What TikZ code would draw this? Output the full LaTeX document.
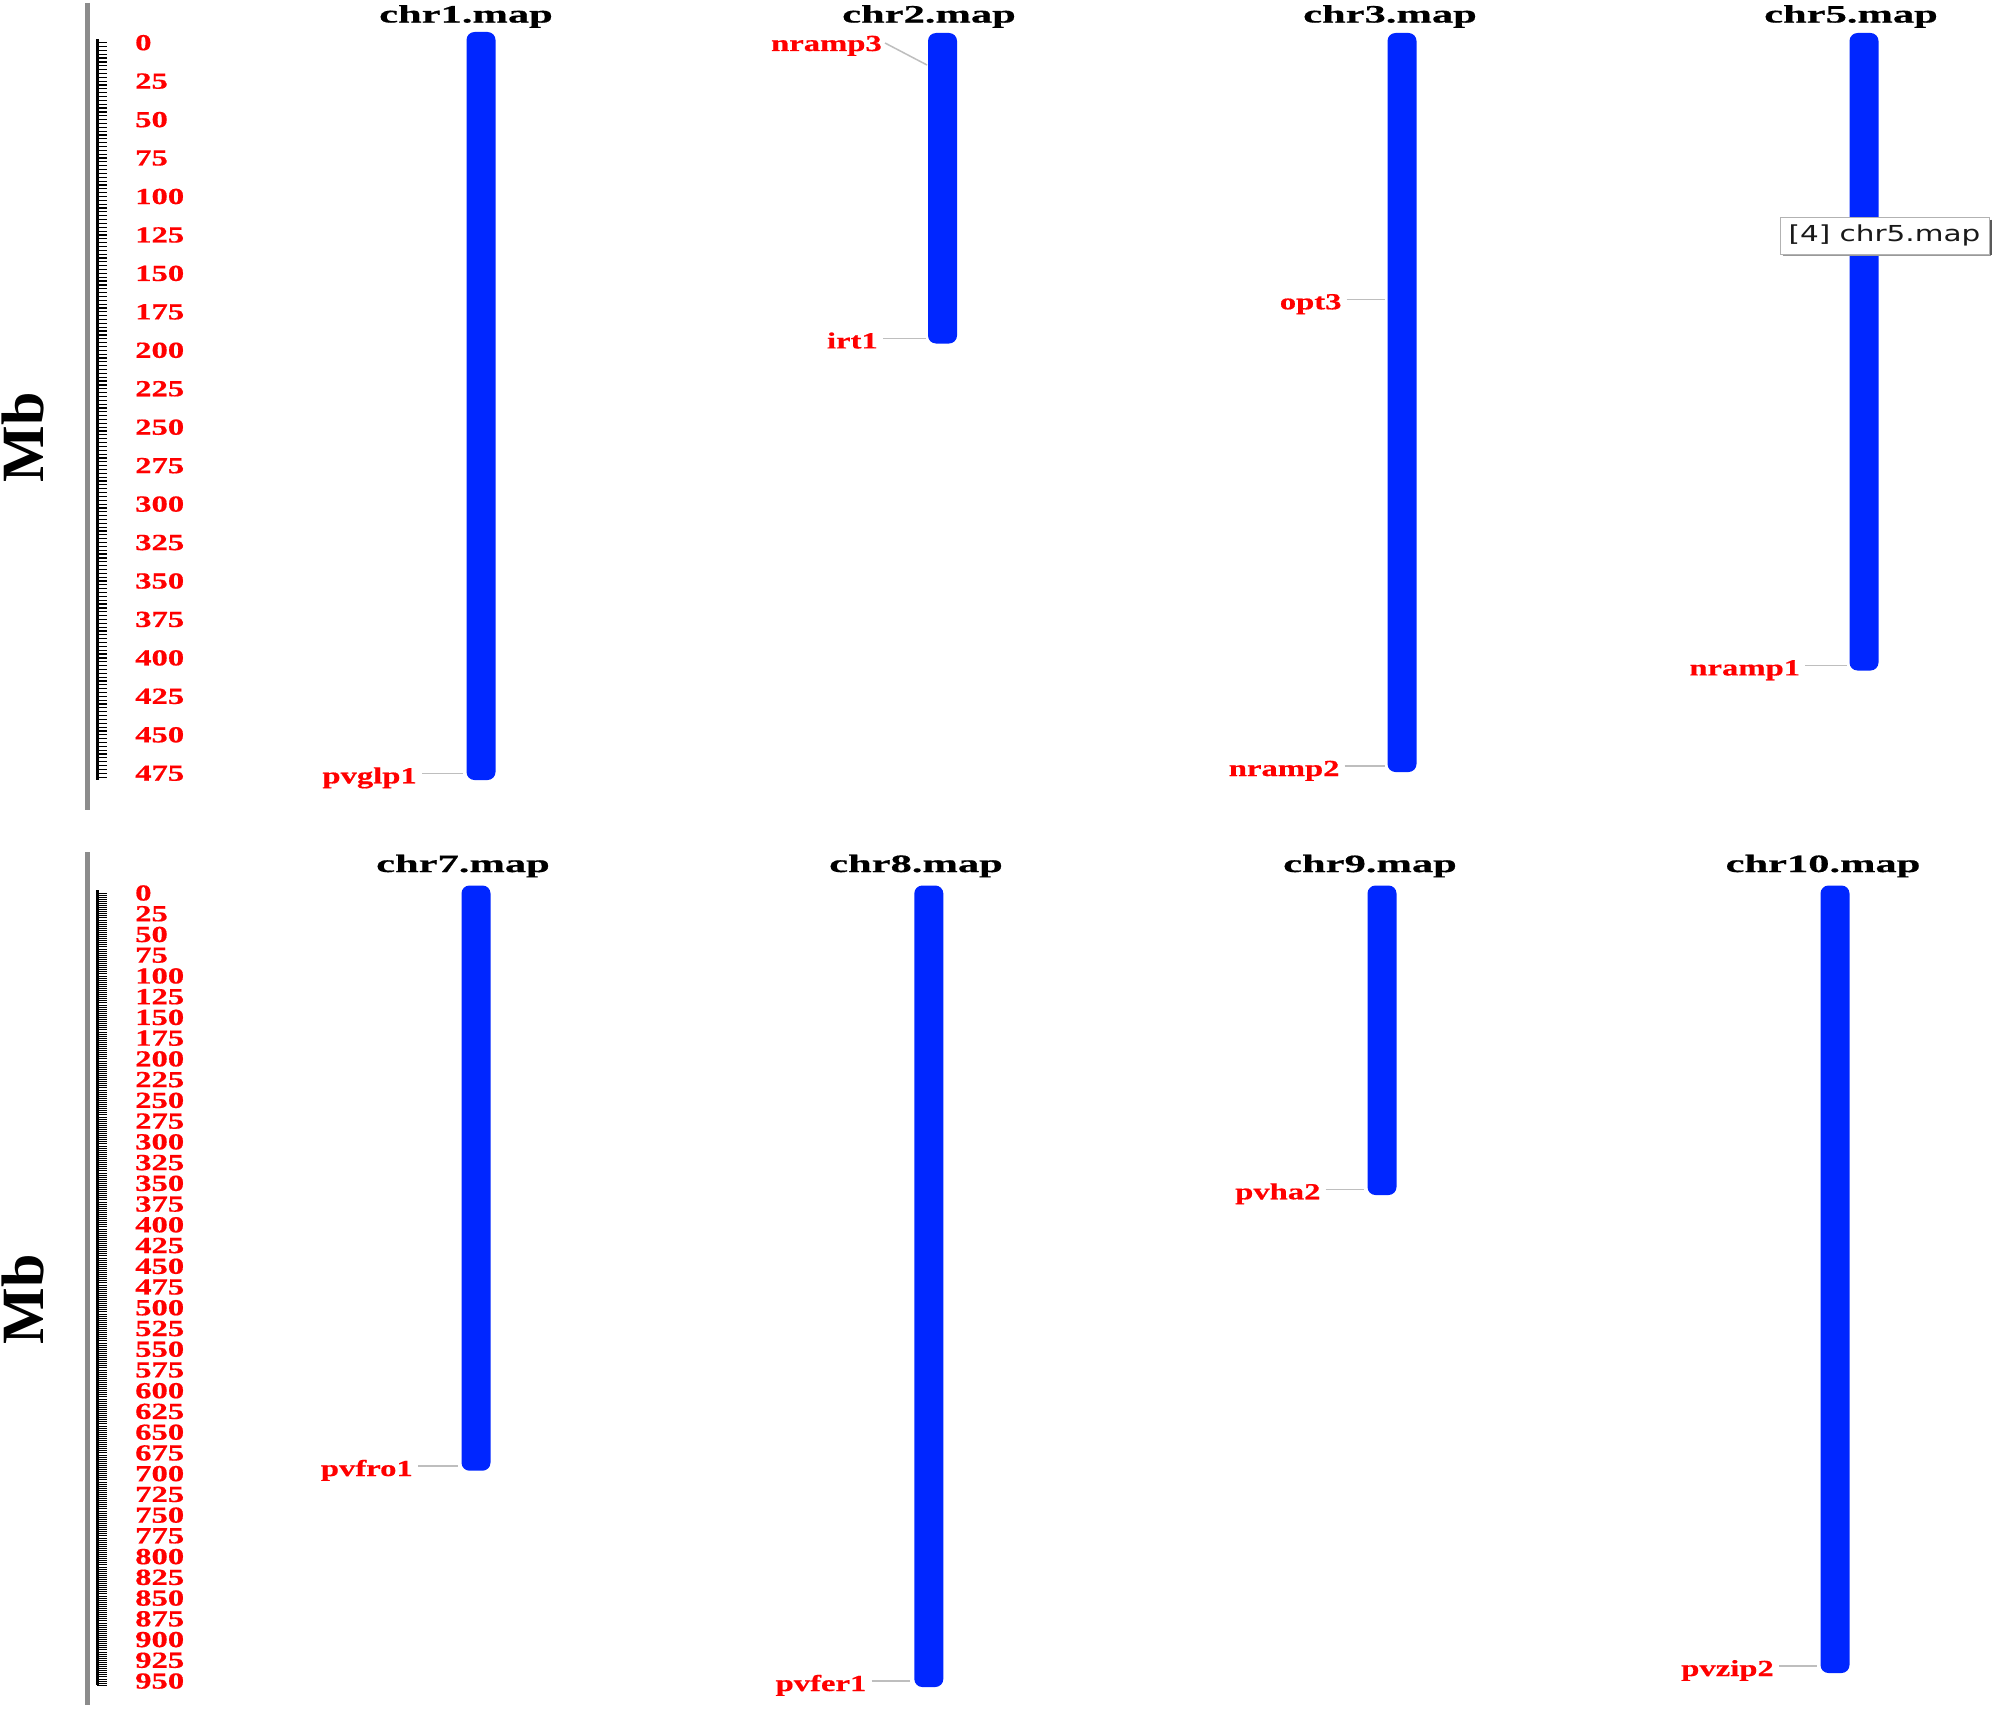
\documentclass[tikz,border=0pt]{standalone}
\usepackage{fontspec}
\setmainfont{Liberation Serif}
\newfontfamily\lblfont[FakeStretch=1.42,FakeBold=0.6]{Liberation Serif}
\newfontfamily\ttlfont[FakeStretch=1.7,FakeBold=0.6]{Liberation Serif}
\newfontfamily\tipfont[FakeStretch=1.34]{DejaVu Sans}
\usetikzlibrary{calc}
\definecolor{chromblue}{RGB}{0,38,255}
\definecolor{conngray}{RGB}{190,190,190}
\definecolor{axisgray}{RGB}{140,140,140}
\definecolor{lblred}{RGB}{255,0,0}
\newcommand{\gene}[6]{%
  \node[genelbl, anchor=base east] (#1) at (#3,{#4+10}) {#2};
  \coordinate (#1p) at (#6,#4);
  \draw[conn] ($(#1.base east)+(5,-10)$) -- (#1p);}
\begin{document}
\begin{tikzpicture}[x=1pt,y=-1pt,
  chrom/.style={fill=chromblue, draw=none, rounded corners=8pt, minimum width=29pt, inner sep=0pt},
  genelbl/.style={text=lblred, inner sep=0pt, font=\lblfont\bfseries\fontsize{23pt}{23pt}\selectfont},
  scalelbl/.style={text=lblred, inner sep=0pt, anchor=west, font=\lblfont\bfseries\fontsize{23pt}{23pt}\selectfont},
  ttl/.style={inner sep=0pt, font=\ttlfont\bfseries\fontsize{25pt}{25pt}\selectfont},
  conn/.style={draw=conngray, line width=1.5pt},
  mblbl/.style={inner sep=0pt, rotate=90, font=\bfseries\fontsize{60pt}{60pt}\selectfont},
  tip/.style={fill=white, draw=gray!60, line width=0.8pt, inner sep=0pt, minimum width=209pt, minimum height=37pt,
    text=black!90, font=\tipfont\fontsize{22pt}{22pt}\selectfont}
]
\fill[white] (0,0) rectangle (1995,1710);
\useasboundingbox (0,0) rectangle (1995,1710);

% ---------- top panel scale ----------
\draw[axisgray, line width=5pt] (87,3) -- (87,810);
\draw[black, line width=3pt] (97,39.3) -- (97,780);
\foreach \v in {0,2.5,...,477.6}
  \draw[black, line width=1.2pt] (97,{42.7+1.538*\v}) -- (107,{42.7+1.538*\v});
\foreach \v [count=\i] in {0,25,...,475}
  \node[scalelbl] (sa\i) at (135,{42.7+1.538*\v}) {\v};
\node[mblbl] (mb1) at (23,437) {Mb};

% ---------- bottom panel scale ----------
\draw[axisgray, line width=5pt] (87,852) -- (87,1705);
\draw[black, line width=3pt] (97,890) -- (97,1685);
\foreach \v in {0,2.5,...,955.1}
  \draw[black, line width=0.9pt] (97,{893+0.8295*\v}) -- (107,{893+0.8295*\v});
\foreach \v [count=\i] in {0,25,...,950}
  \node[scalelbl] (sb\i) at (135,{893+0.8295*\v}) {\v};
\node[mblbl] (mb2) at (23,1299) {Mb};

% ---------- titles ----------
\node[ttl] (t1) at (466,16.5) {chr1.map};
\node[ttl] (t2) at (929,16.5) {chr2.map};
\node[ttl] (t3) at (1390,16.5) {chr3.map};
\node[ttl] (t5) at (1851,16.5) {chr5.map};
\node[ttl] (t7) at (463,866) {chr7.map};
\node[ttl] (t8) at (916,866) {chr8.map};
\node[ttl] (t9) at (1370,866) {chr9.map};
\node[ttl] (t10) at (1823,866) {chr10.map};

% ---------- chromosomes ----------
\node[chrom, minimum height=748pt] (c1) at (481,406) {};
\node[chrom, minimum height=310.5pt] (c2) at (942.5,188.25) {};
\node[chrom, minimum height=739pt] (c3) at (1402,402.5) {};
\node[chrom, minimum height=637.5pt] (c5) at (1864,351.75) {};
\node[chrom, minimum height=585.2pt] (c7) at (476,1178.1) {};
\node[chrom, minimum height=801.5pt] (c8) at (928.8,1286.25) {};
\node[chrom, minimum height=309.5pt] (c9) at (1382,1040.25) {};
\node[chrom, minimum height=787.5pt] (c10) at (1835,1279.25) {};

% ---------- genes ----------
\gene{g1}{pvglp1}{417}{773.3}{c1}{462.7}
\node[genelbl, anchor=base east] (g2) at (882,51) {nramp3};
\coordinate (g2p) at (927,65);
\draw[conn] ($(g2.base east)+(3,-8)$) -- (g2p);
\gene{g3}{irt1}{878}{338.4}{c2}{926}
\gene{g4}{opt3}{1341.7}{299.3}{c3}{1385}
\gene{g5}{nramp2}{1339.7}{766}{c3}{1385}
\gene{g6}{nramp1}{1800.3}{665.4}{c5}{1847}
\gene{g7}{pvfro1}{413}{1466}{c7}{457.5}
\gene{g8}{pvfer1}{866.5}{1681}{c8}{910}
\gene{g9}{pvha2}{1320.7}{1189.3}{c9}{1364}
\gene{g10}{pvzip2}{1774}{1666}{c10}{1817}

% ---------- tooltip ----------
\node[tip] (tt) at (1884.5,235.5) {[4] chr5.map};
\draw[black!65, line width=2pt] ([xshift=1.5pt,yshift=-3pt]tt.north east) -- ([xshift=1.5pt,yshift=-1pt]tt.south east);
\draw[black!40, line width=1.5pt] ([xshift=3pt,yshift=-1pt]tt.south west) -- ([xshift=1.5pt,yshift=-1pt]tt.south east);
\end{tikzpicture}
\end{document}
